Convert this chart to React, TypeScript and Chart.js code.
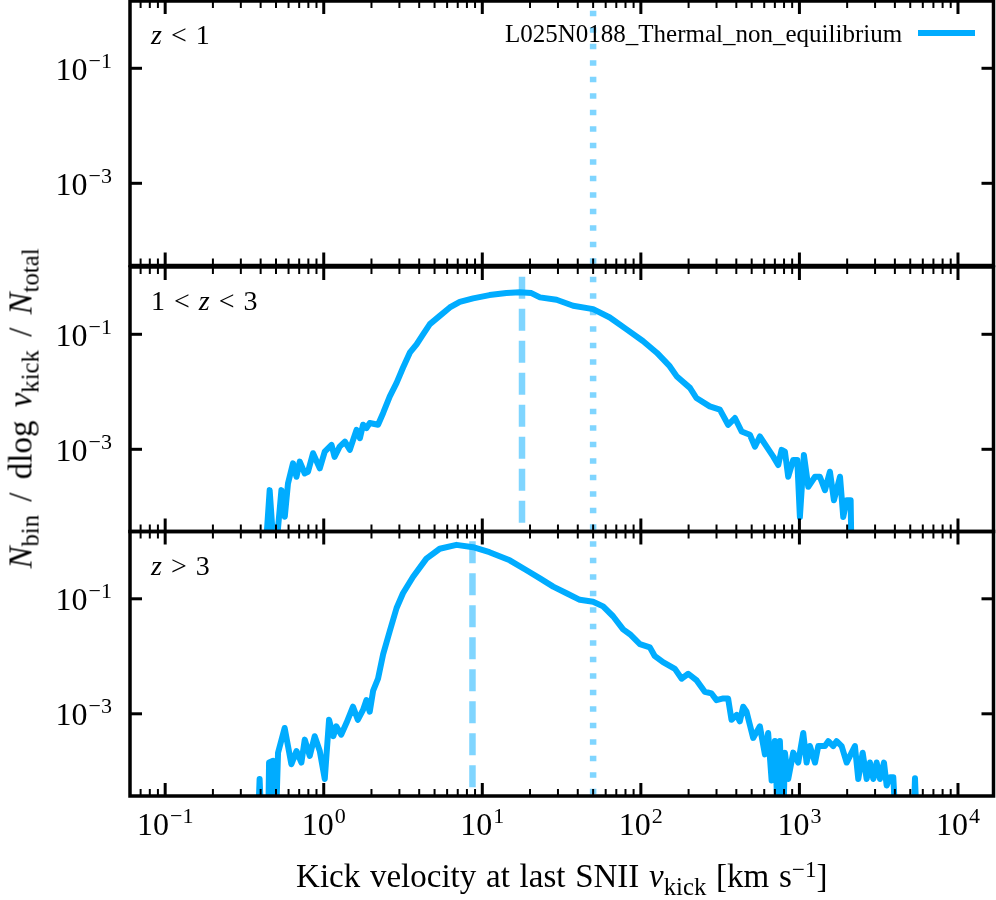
import { useEffect, useRef } from "react";
import { Chart, registerables } from "chart.js";

Chart.register(...registerables);

// kick velocity [km/s] and N_bin / dlog v_kick / N_total
// values of 1e-5 are empty bins (below the axis, they drop out of the panel)
const lowVelocity: number[] = [];
const lowFraction: number[] = [];

const midVelocity = [
  0.424, 0.456, 0.491, 0.541, 0.568, 0.595, 0.64, 0.673, 0.706, 0.759,
  0.796, 0.856, 0.944, 1.015, 1.12, 1.17, 1.26, 1.36, 1.46, 1.61,
  1.69, 1.77, 1.86, 1.95, 2.2, 2.37, 2.61, 2.88, 3.16, 3.49,
  3.85, 4.23, 4.67, 5.39, 6.24, 7.21, 8.75, 11.1, 14.2, 17.2,
  20.4, 23.1, 29.4, 37.4, 50.0, 63.7, 81.3, 103, 126, 152,
  168, 204, 224, 272, 315, 355, 392, 432, 487, 524,
  563, 621, 684, 735, 772, 810, 850, 914, 969, 1007,
  1067, 1137, 1254, 1346, 1449, 1557, 1651, 1803, 1890, 1986,
  2104, 2134,
];
const midFraction = [
  1e-5, 1.95e-4, 1e-5, 1.95e-4, 6.7e-5, 2.55e-4, 5.7e-4, 3.33e-4, 6.1e-4, 3.8e-4,
  4.07e-4, 8.55e-4, 4.68e-4, 9.1e-4, 1.19e-3, 7.4e-4, 1.11e-3, 1.36e-3, 9.8e-4, 2.18e-3,
  1.56e-3, 2.67e-3, 2.34e-3, 2.86e-3, 2.67e-3, 4.28e-3, 8.3e-3, 1.43e-2, 2.62e-2, 4.79e-2,
  6.68e-2, 0.1, 0.15, 0.209, 0.293, 0.367, 0.421, 0.481, 0.521, 0.536,
  0.521, 0.439, 0.398, 0.313, 0.274, 0.196, 0.122, 7.63e-2, 4.79e-2, 2.79e-2,
  1.87e-2, 1.17e-2, 7.8e-3, 5.58e-3, 4.89e-3, 2.67e-3, 3.5e-3, 2.04e-3, 1.79e-3, 1.11e-3,
  1.67e-3, 1.11e-3, 7.45e-4, 5.33e-4, 9.8e-4, 9.1e-4, 3.33e-4, 6.53e-4, 6.53e-4, 6.65e-5,
  7.98e-4, 2.23e-4, 3.33e-4, 3.33e-4, 1.95e-4, 4.07e-4, 1.3e-4, 3.33e-4, 6.65e-5, 1.3e-4,
  1.3e-4, 1e-5,
];

const highVelocity = [
  0.384, 0.394, 0.406, 0.446, 0.452, 0.479, 0.498, 0.515, 0.567, 0.625,
  0.673, 0.723, 0.759, 0.816, 0.877, 0.944, 1.015, 1.08, 1.15, 1.2,
  1.29, 1.39, 1.53, 1.64, 1.77, 1.86, 1.95, 2.05, 2.2, 2.37,
  2.61, 2.88, 3.16, 3.66, 4.44, 5.39, 6.87, 8.75, 11.1, 14.9,
  19.0, 23.1, 28.0, 34.0, 41.2, 50.0, 57.8, 66.8, 77.3, 85.3,
  98.6, 114, 122, 138, 164, 181, 199, 225, 253, 279,
  300, 331, 355, 373, 402, 421, 442, 464, 511, 563,
  606, 635, 668, 700, 735, 753, 790, 810, 850, 914,
  983, 1057, 1110, 1165, 1254, 1315, 1449, 1521, 1634, 1716,
  1846, 1986, 2134, 2239, 2350, 2505, 2655, 2786, 2924, 3070,
  3221, 3414, 3550, 3724, 3909, 4063, 5228, 5357, 5510,
];
const highFraction = [
  1e-5, 7.35e-5, 1e-5, 1e-5, 1.42e-4, 1.52e-4, 1e-5, 2.11e-4, 5.66e-4, 1.33e-4,
  2.25e-4, 1.42e-4, 3.56e-4, 1.85e-4, 4.08e-4, 2.25e-4, 7.35e-5, 7.85e-4, 4.08e-4, 6.05e-4,
  4.35e-4, 6.9e-4, 1.33e-3, 7.85e-4, 1.17e-3, 1.73e-3, 1.09e-3, 2.54e-3, 4.08e-3, 1.09e-2,
  2.75e-2, 6.92e-2, 0.125, 0.242, 0.499, 0.741, 0.867, 0.789, 0.647, 0.467,
  0.314, 0.227, 0.163, 0.125, 9.6e-2, 8.88e-2, 7.38e-2, 4.97e-2, 2.94e-2, 2.42e-2,
  1.63e-2, 1.43e-2, 1.02e-2, 7.89e-3, 6.05e-3, 4.08e-3, 4.97e-3, 3.81e-3, 2.42e-3, 2.26e-3,
  1.73e-3, 1.85e-3, 1.85e-3, 7.85e-4, 9.57e-4, 7.38e-4, 1.33e-3, 1.09e-3, 3.81e-4, 6.05e-4,
  1.97e-4, 4.65e-4, 6.9e-5, 3.35e-4, 1e-5, 3.35e-4, 1e-5, 2.11e-4, 7.35e-5, 2.11e-4,
  1.42e-4, 4.65e-4, 1.42e-4, 2.75e-4, 1.42e-4, 2.75e-4, 2.75e-4, 3.35e-4, 2.75e-4, 3.35e-4,
  2.75e-4, 1.42e-4, 2.11e-4, 2.75e-4, 7.35e-5, 2.11e-4, 7.35e-5, 1.42e-4, 7.35e-5, 1.42e-4,
  7.35e-5, 1.42e-4, 5.66e-5, 7.85e-5, 7.85e-5, 1e-5, 1e-5, 7.55e-5, 1e-5,
];

// median kick velocity per panel (none for z < 1) and the reference velocity
const medianVelocity = [null, 17.8, 8.67];
const referenceVelocity = 50;

const xTickExponents = [-1, 0, 1, 2, 3, 4];
const yTickExponents = [-3, -1];
const panelLabels = [["z", "<", "1"], ["1", "<", "z", "<", "3"], ["z", ">", "3"]];
const legendLabel = "L025N0188_Thermal_non_equilibrium";

const X_MIN = 0.06;
const X_MAX = 16750;
const Y_MIN = 3.72e-5;
const Y_MAX = 1.48;

const W = 996;
const H = 900;
const LEFT = 130;
const RIGHT = 993.5;
const PANEL_TOPS = [1, 267, 531.5];
const PANEL_HEIGHT = 264.5;

const LINE = "#00acff";
const FAINT = "rgba(0, 172, 255, 0.5)";
const SERIF = '"Liberation Serif", "Times New Roman", serif';

const drawPower = (ctx: CanvasRenderingContext2D, exp: number, x: number, baseline: number, align: "right" | "center") => {
  const base = "10";
  const sup = exp < 0 ? "\u2212" + -exp : String(exp);
  ctx.font = `32px ${SERIF}`;
  const wb = ctx.measureText(base).width;
  ctx.font = `22px ${SERIF}`;
  const ws = ctx.measureText(sup).width;
  const total = wb + 1 + ws;
  const start = align === "right" ? x - total : x - total / 2;
  ctx.textAlign = "left";
  ctx.textBaseline = "alphabetic";
  ctx.font = `32px ${SERIF}`;
  ctx.fillText(base, start, baseline);
  ctx.font = `22px ${SERIF}`;
  ctx.fillText(sup, start + wb + 1, baseline - 12);
};

// box, inward ticks on all four sides and the power-of-ten labels
const framePlugin = {
  id: "frame",
  afterDraw(chart: any, _args: any, opts: any) {
    const { ctx, chartArea: a } = chart;
    const x = chart.scales.x;
    const y = chart.scales.y;
    ctx.save();
    ctx.strokeStyle = "#000";
    ctx.fillStyle = "#000";
    const seg = (x0: number, y0: number, x1: number, y1: number) => {
      ctx.beginPath();
      ctx.moveTo(x0, y0);
      ctx.lineTo(x1, y1);
      ctx.stroke();
    };
    for (let e = -2; e <= 4; e++) {
      for (let m = 1; m < 10; m++) {
        const v = m * Math.pow(10, e);
        if (v < X_MIN || v > X_MAX) continue;
        const px = x.getPixelForValue(v);
        const len = m === 1 ? 13 : 7;
        ctx.lineWidth = m === 1 ? 3 : 2;
        seg(px, a.top, px, a.top + len);
        seg(px, a.bottom, px, a.bottom - len);
      }
    }
    ctx.lineWidth = 3;
    for (const e of yTickExponents) {
      const py = y.getPixelForValue(Math.pow(10, e));
      seg(a.left, py, a.left + 12, py);
      seg(a.right, py, a.right - 12, py);
      drawPower(ctx, e, a.left - 18, py + 11.5, "right");
    }
    ctx.lineWidth = 3.5;
    ctx.strokeRect(a.left, a.top, a.right - a.left, a.bottom - a.top);
    if (opts.xLabels) {
      for (const e of xTickExponents) {
        drawPower(ctx, e, x.getPixelForValue(Math.pow(10, e)), a.bottom + 38.5, "center");
      }
    }
    ctx.restore();
  },
};

const verticalLine = (v: number, dash: number[]) => ({
  data: [{ x: v, y: 1 }, { x: v, y: 1e-5 }],
  borderColor: FAINT,
  borderWidth: 6.5,
  borderDash: dash,
  borderCapStyle: "butt",
  pointRadius: 0,
});

const series = [
  { velocity: lowVelocity, fraction: lowFraction },
  { velocity: midVelocity, fraction: midFraction },
  { velocity: highVelocity, fraction: highFraction },
];

function PanelChart({ index }: { index: number }) {
  const canvasRef = useRef<HTMLCanvasElement>(null);

  useEffect(() => {
    if (!canvasRef.current) return;
    const { velocity, fraction } = series[index];
    const median = medianVelocity[index];
    const top = PANEL_TOPS[index];

    const datasets: any[] = [
      {
        data: velocity.map((v, i) => ({ x: v, y: fraction[i] })),
        borderColor: LINE,
        borderWidth: 6,
        borderJoinStyle: "round",
        pointRadius: 0,
        tension: 0,
      },
    ];
    if (median !== null) datasets.push(verticalLine(median, [22, 10]));
    datasets.push(verticalLine(referenceVelocity, [5.5, 11]));

    const chart = new Chart(canvasRef.current, {
      type: "line",
      data: { datasets },
      options: {
        animation: false,
        responsive: false,
        events: [],
        layout: {
          padding: { left: LEFT, right: W - RIGHT, top, bottom: H - top - PANEL_HEIGHT },
        },
        plugins: {
          legend: { display: false },
          tooltip: { enabled: false },
          frame: { xLabels: index === 2 },
        },
        scales: {
          x: { type: "logarithmic", min: X_MIN, max: X_MAX, display: false },
          y: { type: "logarithmic", min: Y_MIN, max: Y_MAX, display: false },
        },
      } as any,
      plugins: [framePlugin],
    });

    return () => chart.destroy();
  }, [index]);

  return (
    <canvas
      ref={canvasRef}
      width={W}
      height={H}
      style={{ position: "absolute", left: 0, top: 0 }}
    />
  );
}

const Sub = ({ children }: { children: any }) => (
  <span style={{ fontSize: "75%", position: "relative", top: "0.3em", lineHeight: 0 }}>{children}</span>
);
const Sup = ({ children }: { children: any }) => (
  <span style={{ fontSize: "70%", position: "relative", top: "-0.45em", lineHeight: 0 }}>{children}</span>
);

export default function App() {
  return (
    <div
      style={{
        position: "absolute",
        left: 0,
        top: 0,
        width: W,
        height: H,
        overflow: "hidden",
        background: "#fff",
        color: "#000",
        fontFamily: SERIF,
      }}
    >
      {series.map((_, i) => (
        <PanelChart key={i} index={i} />
      ))}

      {panelLabels.map((parts, i) => (
        <div
          key={i}
          style={{
            position: "absolute",
            left: 151,
            top: PANEL_TOPS[i] + 43.5 - 0.8375 * 28,
            fontSize: 28,
            lineHeight: 1,
            whiteSpace: "nowrap",
          }}
        >
          {parts.map((p, j) =>
            p === "z" ? (
              <i key={j}>z</i>
            ) : p === "<" || p === ">" ? (
              <span key={j} style={{ margin: "0 9px" }}>{p}</span>
            ) : (
              <span key={j}>{p}</span>
            )
          )}
        </div>
      ))}

      <div
        style={{
          position: "absolute",
          left: 505,
          top: 41.7 - 0.8375 * 25,
          fontSize: 25,
          lineHeight: 1,
          whiteSpace: "nowrap",
        }}
      >
        {legendLabel}
      </div>
      <div style={{ position: "absolute", left: 918, top: 30, width: 57, height: 6, background: LINE }} />

      <div
        style={{
          position: "absolute",
          left: (LEFT + RIGHT) / 2 - 400,
          width: 800,
          top: 888 - 0.8375 * 33,
          fontSize: 33,
          lineHeight: 1,
          textAlign: "center",
          whiteSpace: "nowrap",
          wordSpacing: 1.5,
        }}
      >
        Kick velocity at last SNII <i>v</i>
        <Sub>kick</Sub> [km s<Sup>{"\u22121"}</Sup>]
      </div>

      <div
        style={{
          position: "absolute",
          left: 21 - 300,
          width: 600,
          top: 408 - 16.5,
          fontSize: 33,
          lineHeight: 1,
          textAlign: "center",
          whiteSpace: "nowrap",
          wordSpacing: 5,
          transform: "rotate(-90deg)",
        }}
      >
        <i>N</i>
        <Sub>bin</Sub> / dlog <i>v</i>
        <Sub>kick</Sub> / <i>N</i>
        <Sub>total</Sub>
      </div>
    </div>
  );
}
